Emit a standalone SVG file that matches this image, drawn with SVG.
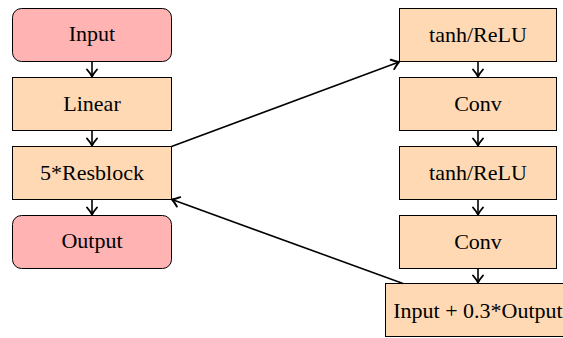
<svg xmlns="http://www.w3.org/2000/svg" width="563" height="338" viewBox="0 0 563 338">
<defs>
<style>
.io{fill:#ffb3b3;stroke:#000;stroke-width:1}
.op{fill:#ffd9b3;stroke:#000;stroke-width:1}
.lbl{font-family:'Liberation Serif','Times New Roman','DejaVu Serif',serif;font-size:22px;text-anchor:middle;fill:#000}
.edge{stroke:#000;stroke-width:1.6;fill:none;marker-end:url(#arr)}
</style>
<marker id="arr" viewBox="-8 -7 10 14" refX="1" refY="0" markerWidth="10" markerHeight="14" markerUnits="userSpaceOnUse" orient="auto">
<path d="M-6,-5 Q-1.5,-1.2 1,0 Q-1.5,1.2 -6,5" fill="none" stroke="#000" stroke-width="1.9" stroke-linecap="round" stroke-linejoin="round"/>
</marker>
</defs>
<rect width="563" height="338" fill="#fff"/>
<g class="lbl" font-family="Liberation Serif, Times New Roman, serif">
<g id="input"><rect class="io" x="12.5" y="8.5" width="159" height="53" rx="9"/><text x="92" y="41">Input</text></g>
<g id="linear"><rect class="op" x="12.5" y="77.5" width="159" height="53"/><text x="92" y="111">Linear</text></g>
<g id="resblock"><rect class="op" x="12.5" y="146.5" width="159" height="53"/><text x="92" y="180">5*Resblock</text></g>
<g id="output"><rect class="io" x="12.5" y="215.5" width="159" height="53" rx="9"/><text x="92" y="247.5">Output</text></g>
<g id="tanh1"><rect class="op" x="399.5" y="8.5" width="157" height="53"/><text x="478" y="42">tanh/ReLU</text></g>
<g id="conv1"><rect class="op" x="399.5" y="77.5" width="157" height="53"/><text x="478" y="110.5">Conv</text></g>
<g id="tanh2"><rect class="op" x="399.5" y="146.5" width="157" height="53"/><text x="478" y="180">tanh/ReLU</text></g>
<g id="conv2"><rect class="op" x="399.5" y="215.5" width="157" height="53"/><text x="478" y="248.5">Conv</text></g>
<g id="sum"><rect class="op" x="385.5" y="283.5" width="186" height="53"/><text x="478" y="318">Input + 0.3*Output</text></g>
</g>
<g id="connectors">
<line class="edge" x1="92" y1="61.5" x2="92" y2="76.5"/>
<line class="edge" x1="92" y1="130.5" x2="92" y2="145.5"/>
<line class="edge" x1="92" y1="199.5" x2="92" y2="214.5"/>
<line class="edge" x1="478" y1="61.5" x2="478" y2="76.5"/>
<line class="edge" x1="478" y1="130.5" x2="478" y2="145.5"/>
<line class="edge" x1="478" y1="199.5" x2="478" y2="214.5"/>
<line class="edge" x1="478" y1="268.5" x2="478" y2="282.5"/>
<line class="edge" x1="171.5" y1="146.5" x2="399" y2="62"/>
<line class="edge" x1="403" y1="283.5" x2="172" y2="199.5"/>
</g>
</svg>
